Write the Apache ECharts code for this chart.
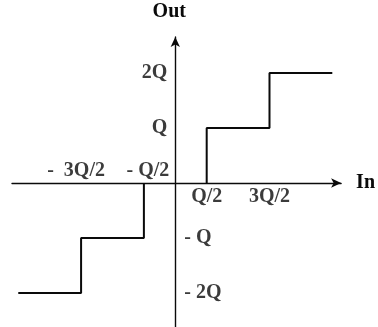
<!DOCTYPE html>
<html>
<head>
<meta charset="utf-8">
<style>
  html, body { margin: 0; padding: 0; background: #fff; }
  #chart { width: 378px; height: 327px; }
</style>
<script src="https://cdn.jsdelivr.net/npm/echarts@6/dist/echarts.min.js"></script>
</head>
<body>
<div id="chart"></div>
<script>
// Mid-tread quantizer transfer curve, values in units of Q
var inputStart = -2.5;
var inputEnd = 2.5;
var decisionLevels = [-1.5, -0.5, 0.5, 1.5];
var outputLevels = [-2, -1, 0, 1, 2];

var xTickValues = [-1.5, -0.5, 0.5, 1.5];
var xTickLabels = ['-  3Q/2', '- Q/2', 'Q/2', '3Q/2'];
var yTickValues = [2, 1, -1, -2];
var yTickLabels = ['2Q', 'Q', '- Q', '- 2Q'];

// staircase points: a step happens at every decision level;
// the zero-output tread lies on the input axis, so it is left out
var stairData = [[inputStart, outputLevels[0]]];
decisionLevels.forEach(function (d, i) {
  var lvl = outputLevels[i + 1];
  if (lvl === 0) {
    stairData.push([d, 0]);
    stairData.push('-');
  } else {
    if (outputLevels[i] === 0) stairData.push([d, 0]);
    stairData.push([d, lvl]);
  }
});
stairData.push([inputEnd, outputLevels[outputLevels.length - 1]]);

var FONT = '"Liberation Serif", "Times New Roman", serif';
var INK = '#0a0a0a';
var FS = 20;

var labelData = [];
xTickValues.forEach(function (v, i) {
  var neg = v < 0;
  labelData.push({
    value: [v, 0],
    label: {
      formatter: xTickLabels[i],
      position: neg ? 'top' : 'bottom',
      distance: neg ? 2 : 4,
      offset: [neg ? (i === 0 ? -5 : 4) : 0, 0]
    }
  });
});
yTickValues.forEach(function (v, i) {
  var pos = v > 0;
  labelData.push({
    value: [0, v],
    label: {
      formatter: yTickLabels[i],
      position: pos ? 'left' : 'right',
      distance: pos ? 8 : 9
    }
  });
});

var chart = echarts.init(document.getElementById('chart'), null, { renderer: 'canvas' });
chart.setOption({
  animation: false,
  backgroundColor: '#fff',
  grid: { left: 12, top: 37, width: 330, height: 290, containLabel: false },
  xAxis: {
    type: 'value', min: -2.6, max: 2.64,
    name: 'In', nameLocation: 'end', nameGap: 15,
    nameTextStyle: { fontFamily: FONT, fontWeight: 'bold', fontSize: FS, color: INK },
    axisLine: { onZero: true, symbol: ['none', 'arrow'], symbolSize: [7, 10],
                lineStyle: { color: INK, width: 1.4 } },
    axisTick: { show: false }, axisLabel: { show: false }, splitLine: { show: false }
  },
  yAxis: {
    type: 'value', min: -2.618, max: 2.655,
    name: 'Out', nameLocation: 'end', nameGap: 15,
    nameTextStyle: { fontFamily: FONT, fontWeight: 'bold', fontSize: FS, color: INK, padding: [0, 12, 0, 0] },
    axisLine: { onZero: true, symbol: ['none', 'arrow'], symbolSize: [7, 10],
                lineStyle: { color: INK, width: 1.4 } },
    axisTick: { show: false }, axisLabel: { show: false }, splitLine: { show: false }
  },
  series: [
    {
      type: 'line', step: 'end', data: stairData, symbol: 'none', connectNulls: false,
      lineStyle: { color: INK, width: 2 }
    },
    {
      type: 'scatter', data: labelData, symbolSize: 0, silent: true,
      label: { show: true, fontFamily: FONT, fontWeight: 'bold', fontSize: FS, color: INK }
    }
  ]
});
</script>
</body>
</html>
